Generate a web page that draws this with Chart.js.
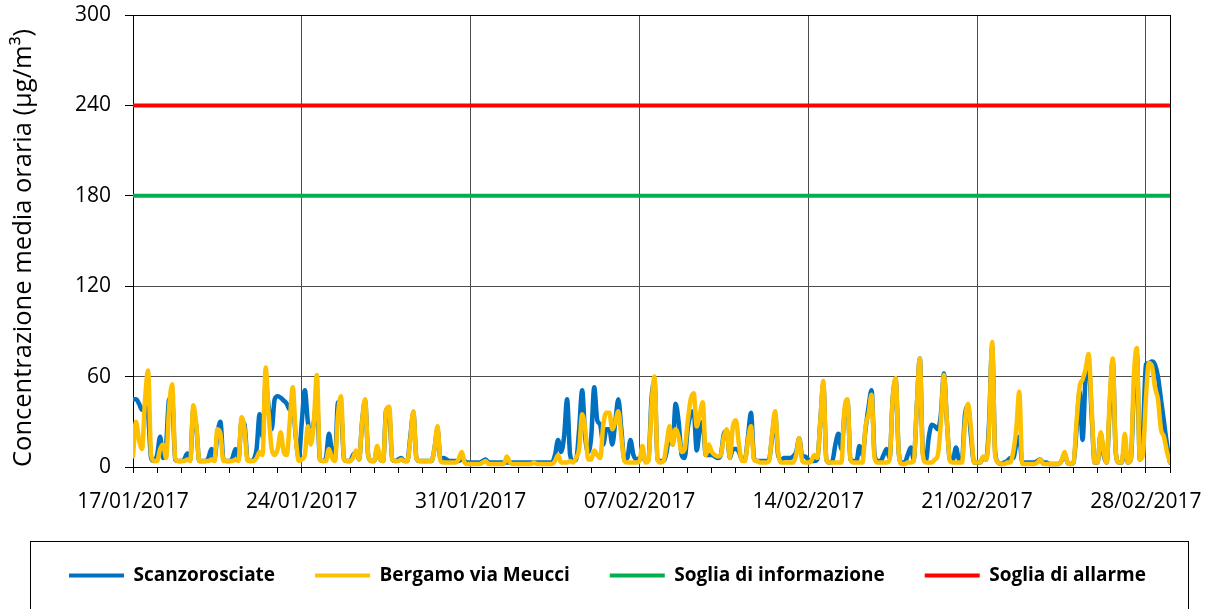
<!DOCTYPE html>
<html lang="it">
<head>
<meta charset="UTF-8">
<title>Concentrazione media oraria</title>
<script src="https://cdn.jsdelivr.net/npm/chart.js@4.4.1/dist/chart.umd.min.js"></script>
<style>
  html, body { margin: 0; padding: 0; background: #fff; }
  #chart { display: block; }
</style>
</head>
<body>
<canvas id="chart" width="1215" height="609"></canvas>
<script>
// one value every 3 hours, starting 17/01/2017 00:00
const stepHours = 3;
const totalHours = 1032;
const weekLabels = ['17/01/2017', '24/01/2017', '31/01/2017', '07/02/2017', '14/02/2017', '21/02/2017', '28/02/2017'];

const scanzorosciate = [
  45, 45, 42, 38, 40, 35, 6, 4,
  8, 20, 6, 15, 45, 45, 5, 4,
  4, 5, 9, 5, 38, 26, 4, 4,
  4, 6, 12, 5, 22, 30, 5, 4,
  4, 6, 12, 6, 30, 28, 5, 4,
  5, 12, 35, 20, 55, 40, 25, 45,
  47, 46, 44, 42, 38, 42, 20, 6,
  30, 51, 30, 20, 30, 45, 5, 4,
  6, 22, 10, 5, 43, 40, 5, 4,
  4, 8, 10, 5, 30, 44, 8, 4,
  4, 12, 5, 4, 38, 36, 5, 4,
  5, 6, 4, 4, 20, 36, 6, 4,
  4, 4, 4, 4, 12, 25, 5, 6,
  5, 4, 4, 4, 4, 5, 4, 3,
  3, 3, 3, 3, 4, 5, 3, 3,
  3, 3, 3, 3, 3, 3, 3, 3,
  3, 3, 3, 3, 3, 3, 3, 3,
  3, 3, 3, 3, 8, 18, 10, 20,
  45, 8, 4, 5, 25, 51, 20, 10,
  20, 53, 31, 28, 15, 25, 25, 15,
  30, 45, 25, 5, 6, 18, 8, 5,
  6, 8, 4, 5, 45, 57, 5, 4,
  4, 10, 22, 15, 42, 30, 8, 6,
  25, 35, 37, 11, 25, 30, 8, 8,
  8, 7, 6, 8, 22, 24, 6, 12,
  12, 10, 5, 5, 20, 36, 6, 4,
  4, 4, 4, 5, 20, 35, 8, 5,
  6, 6, 6, 7, 10, 19, 7, 7,
  5, 4, 4, 5, 30, 55, 5, 3,
  4, 15, 22, 12, 35, 44, 5, 4,
  4, 14, 8, 25, 40, 51, 8, 4,
  4, 8, 12, 6, 45, 58, 10, 3,
  3, 8, 13, 5, 40, 72, 10, 4,
  20, 28, 27, 25, 35, 62, 30, 5,
  5, 13, 5, 5, 35, 40, 20, 3,
  3, 3, 6, 5, 30, 80, 10, 3,
  2, 3, 4, 6, 6, 15, 20, 3,
  3, 3, 3, 3, 4, 5, 3, 3,
  2, 2, 2, 2, 4, 8, 3, 2,
  3, 25, 50, 18, 60, 69, 35, 3,
  3, 22, 8, 3, 40, 70, 10, 3,
  3, 15, 3, 5, 50, 75, 5, 20,
  68, 69, 70, 68, 60, 45, 30, 15,
  3
];

const bergamoMeucci = [
  7, 30, 18, 12, 45, 64, 8, 4,
  4, 12, 15, 6, 40, 55, 6, 4,
  4, 4, 5, 4, 41, 28, 4, 4,
  4, 4, 5, 4, 25, 22, 4, 4,
  4, 4, 5, 4, 33, 25, 4, 4,
  4, 6, 10, 8, 66, 35, 12, 8,
  12, 23, 10, 8, 30, 53, 20, 4,
  5, 8, 27, 15, 30, 61, 5, 4,
  4, 12, 6, 4, 35, 47, 5, 4,
  4, 6, 11, 5, 30, 45, 8, 4,
  4, 14, 5, 4, 38, 40, 5, 4,
  4, 5, 4, 4, 18, 37, 6, 4,
  4, 4, 4, 4, 12, 27, 4, 3,
  3, 3, 3, 3, 5, 10, 3, 2,
  2, 2, 2, 2, 3, 4, 2, 2,
  2, 2, 2, 2, 7, 3, 2, 2,
  2, 2, 2, 2, 2, 3, 2, 2,
  2, 2, 2, 2, 4, 8, 3, 3,
  3, 4, 3, 6, 12, 35, 25, 5,
  5, 11, 8, 6, 28, 36, 36, 25,
  30, 37, 20, 4, 3, 3, 3, 3,
  4, 14, 3, 4, 40, 60, 5, 3,
  4, 15, 27, 15, 25, 20, 10, 12,
  30, 45, 49, 27, 35, 43, 8, 15,
  10, 8, 7, 8, 20, 25, 6, 27,
  31, 15, 4, 4, 18, 27, 5, 4,
  3, 3, 3, 4, 22, 37, 10, 3,
  3, 3, 3, 3, 8, 19, 4, 3,
  3, 4, 8, 6, 30, 57, 5, 3,
  3, 3, 3, 3, 38, 45, 5, 3,
  3, 3, 3, 27, 35, 48, 6, 3,
  3, 3, 3, 5, 45, 59, 10, 2,
  2, 3, 3, 4, 40, 72, 8, 3,
  3, 3, 5, 8, 30, 61, 30, 4,
  3, 3, 3, 3, 30, 42, 25, 3,
  3, 3, 7, 5, 25, 83, 8, 3,
  2, 2, 3, 3, 10, 25, 50, 2,
  2, 2, 2, 2, 3, 5, 2, 2,
  2, 2, 2, 2, 4, 10, 3, 2,
  3, 30, 53, 58, 65, 75, 40, 3,
  3, 23, 10, 3, 45, 72, 10, 3,
  3, 22, 3, 5, 60, 79, 5, 8,
  45, 69, 67, 53, 45, 25, 20, 10,
  3
];

const sogliaInformazione = 180;
const sogliaAllarme = 240;

const toPoints = arr => arr.map((v, i) => ({ x: i * stepHours, y: v }));
const flat = v => [{ x: 0, y: v }, { x: totalHours, y: v }];

Chart.defaults.font.family = "'Open Sans', sans-serif";
Chart.defaults.color = '#000';

// frame round the legend, like the Excel one
const legendFrame = {
  id: 'legendFrame',
  afterDraw(chart) {
    const lg = chart.legend;
    const ctx = chart.ctx;
    ctx.save();
    ctx.strokeStyle = '#000';
    ctx.lineWidth = 1;
    ctx.strokeRect(30.5, lg.top + 15.5, chart.width - 57, 120);
    ctx.restore();
  }
};

new Chart(document.getElementById('chart'), {
  type: 'line',
  data: {
    datasets: [
      { label: 'Scanzorosciate', data: toPoints(scanzorosciate), borderColor: '#0070C0', backgroundColor: '#0070C0', borderWidth: 4.5, order: 2 },
      { label: 'Bergamo via Meucci', data: toPoints(bergamoMeucci), borderColor: '#FFC000', backgroundColor: '#FFC000', borderWidth: 4.5, order: 1 },
      { label: 'Soglia di informazione', data: flat(sogliaInformazione), borderColor: '#00B050', backgroundColor: '#00B050', borderWidth: 4, order: 0 },
      { label: 'Soglia di allarme', data: flat(sogliaAllarme), borderColor: '#FF0000', backgroundColor: '#FF0000', borderWidth: 4, order: 0 }
    ]
  },
  options: {
    responsive: false,
    animation: false,
    events: [],
    elements: {
      point: { radius: 0 },
      line: { cubicInterpolationMode: 'monotone', borderJoinStyle: 'round', borderCapStyle: 'round' }
    },
    layout: { padding: { top: 3, left: 0, right: 0, bottom: 14 } },
    plugins: {
      tooltip: { enabled: false },
      legend: {
        position: 'bottom',
        labels: {
          boxWidth: 55,
          boxHeight: 4,
          padding: 40,
          color: '#000',
          font: { size: 19, weight: 'bold' },
          sort: (a, b) => a.datasetIndex - b.datasetIndex,
          generateLabels: chart => Chart.defaults.plugins.legend.labels.generateLabels(chart)
            .map(l => Object.assign(l, { lineWidth: 0 }))
        }
      }
    },
    scales: {
      x: {
        type: 'linear',
        min: 0,
        max: totalHours,
        afterFit: s => { s.height = 59; },
        ticks: {
          stepSize: 24,
          maxTicksLimit: 60,
          autoSkip: false,
          maxRotation: 0,
          padding: 16,
          font: { size: 21 },
          callback: v => (v % 168 === 0 ? weekLabels[v / 168] : '')
        },
        grid: {
          color: c => {
            const v = c.tick.value;
            if (v === totalHours) return '#000';
            return v % 168 === 0 ? '#4d4d4d' : 'rgba(0,0,0,0)';
          },
          tickColor: '#000',
          tickLength: 6
        },
        border: { color: '#000', width: 1 }
      },
      y: {
        min: 0,
        max: 300,
        afterFit: s => { s.width = 133; s.paddingTop = 15; s.paddingBottom = 13; },
        ticks: { stepSize: 60, padding: 14, font: { size: 21 } },
        grid: {
          color: c => (c.tick.value === 300 ? '#000' : '#4d4d4d'),
          tickColor: '#000',
          tickLength: 8
        },
        border: { color: '#000', width: 1 },
        title: {
          display: true,
          text: 'Concentrazione media oraria (µg/m³)',
          align: 'start',
          font: { size: 25.5 },
          padding: { top: 8, bottom: 0 }
        }
      },
      yRight: {
        position: 'right',
        display: true,
        grid: { display: false },
        ticks: { display: false },
        border: { display: false },
        afterFit: s => { s.width = 45; }
      }
    }
  },
  plugins: [legendFrame]
});
</script>
</body>
</html>
